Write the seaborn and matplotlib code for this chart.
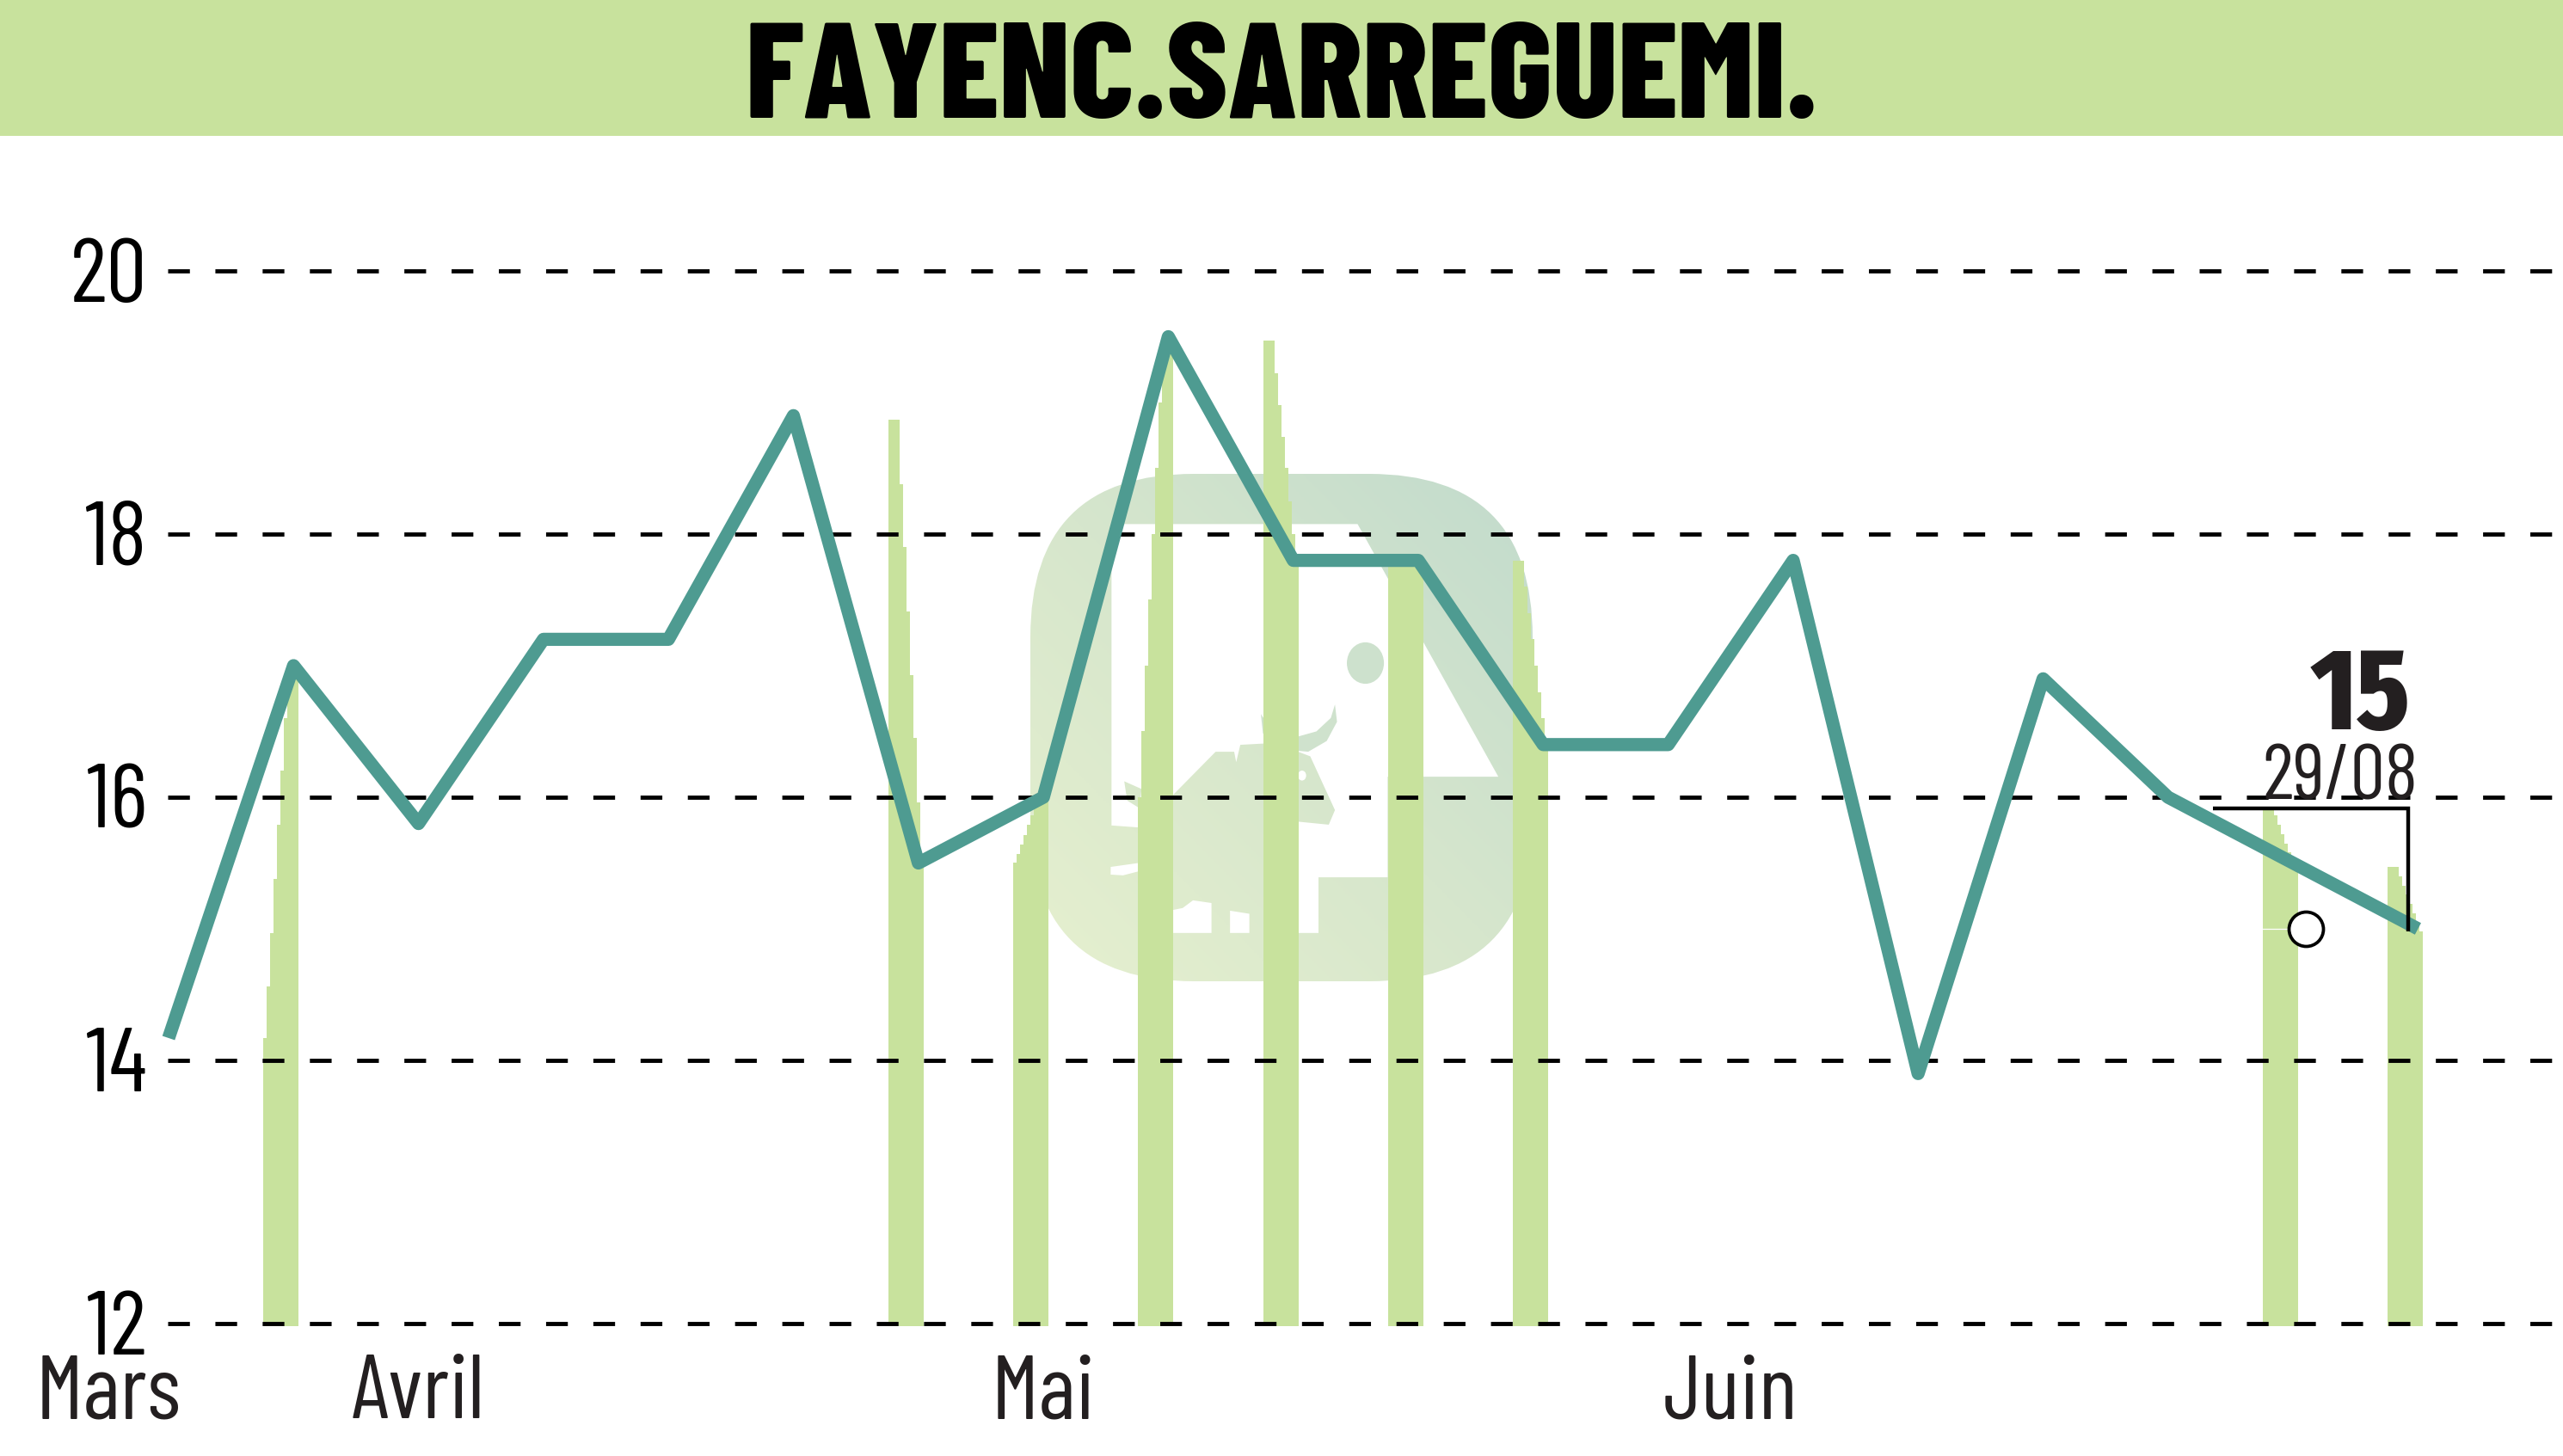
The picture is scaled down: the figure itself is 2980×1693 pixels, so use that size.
import numpy as np
import matplotlib
matplotlib.use('Agg')
import matplotlib.pyplot as plt
from matplotlib.patches import FancyBboxPatch, Polygon, Rectangle, Ellipse
from matplotlib.colors import LinearSegmentedColormap
from matplotlib.transforms import ScaledTranslation
import pandas as pd
import seaborn as sns

# ---- data ----
title = "FAYENC.SARREGUEMI."
price = [14.17, 17.0, 15.8, 17.2, 17.2, 18.9, 15.5, 16.0, 19.5, 17.8, 17.8, 16.4, 16.4, 17.8, 13.9, 16.9, 16.0, 15.5, 15.0]
sessions = list(range(len(price)))
y_ticks = [12, 14, 16, 18, 20]
month_labels = ["Mars", "Avril", "Mai", "Juin"]
month_pos = [-0.48, 2, 7, 12.5]
bar_sessions = [1, 6, 7, 8, 9, 10, 11, 17, 18]
bar_levels = [
    [14.17, 14.56, 14.97, 15.38, 15.79, 16.2, 16.6, 17.0],
    [18.87, 18.38, 17.9, 17.41, 16.93, 16.45, 15.96, 15.5],
    [15.5, 15.57, 15.64, 15.71, 15.79, 15.86, 15.93, 16.0],
    [16.0, 16.5, 17.0, 17.5, 18.0, 18.5, 19.0, 19.47],
    [19.47, 19.22, 18.98, 18.74, 18.5, 18.25, 18.0, 17.8],
    [17.8],
    [17.8, 17.6, 17.4, 17.2, 17.0, 16.8, 16.6, 16.4],
    [15.93, 15.86, 15.79, 15.72, 15.65, 15.58, 15.51, 15.45],
    [15.47, 15.40, 15.33, 15.26, 15.19, 15.12, 15.05, 14.98],
]
last_value = "15"
last_date = "29/08"

GREEN = "#c8e29d"
TEAL = "#4e9b91"
W, H = 2980, 1693
FONT = ["Barlow Condensed", "Fira Sans Extra Condensed", "DejaVu Sans"]

sns.set_theme(style="white")
plt.rcParams["font.family"] = FONT

fig = plt.figure(figsize=(W / 100, H / 100), dpi=100, facecolor="white")

# ---- background layer in picture pixels: header band and watermark ----
bg = fig.add_axes([0, 0, 1, 1], zorder=0)
bg.set_xlim(0, W)
bg.set_ylim(H, 0)
bg.axis("off")
bg.add_patch(Rectangle((0, 0), W, 158, fc=GREEN, ec="none"))

def z(pts):
    return [(1100 + x / 2.09, 500 + y / 2.24) for x, y in pts]

grad_x, grad_y = np.meshgrid(np.linspace(0, 1, 200), np.linspace(1, 0, 200))
cmap = LinearSegmentedColormap.from_list("wm", ["#e6f0cf", "#d6e6cc", "#c2dbcd"])
ext = (1198, 1782, 1141, 551)
grad = (grad_x + grad_y) / 2

rad = 190
box = FancyBboxPatch((1198 + rad, 551 + rad), 584 - 2 * rad, 590 - 2 * rad,
                     boxstyle=f"round,pad={rad},rounding_size={rad}", fc="none", ec="none")
bg.add_patch(box)
im = bg.imshow(grad, extent=ext, cmap=cmap, aspect="auto", zorder=1)
im.set_clip_path(box)

white_main = [(402, 245), (1000, 245), (1342, 903), (1073, 903), (1073, 1165), (905, 1165),
              (905, 1310), (855, 1310), (855, 1020), (930, 1028), (945, 990), (885, 850),
              (800, 815), (715, 820), (705, 865), (700, 838), (655, 838), (552, 950),
              (500, 1000), (466, 1035), (402, 1030)]
white_tail = [(400, 1138), (466, 1128), (466, 1150), (430, 1160), (400, 1158)]
white_hole1 = [(552, 1250), (575, 1245), (600, 1225), (645, 1232), (645, 1310), (552, 1310)]
white_hole2 = [(690, 1252), (737, 1260), (737, 1310), (690, 1310)]
for poly in (white_main, white_tail, white_hole1, white_hole2):
    bg.add_patch(Polygon(z(poly), closed=True, fc="white", ec="none", zorder=2))

horn = [(945, 715), (950, 760), (925, 810), (880, 838), (850, 835), (790, 815), (770, 790),
        (765, 740), (790, 780), (850, 800), (900, 785), (935, 750)]
ear = [(433, 915), (475, 935), (470, 985), (440, 965)]
for poly, col in ((horn, "#cfe2cd"), (ear, "#d9e8cc")):
    bg.add_patch(Polygon(z(poly), closed=True, fc=col, ec="none", zorder=3))
bg.add_patch(Ellipse((1100 + 1019 / 2.09, 500 + 607 / 2.24), 90 / 2.09, 108 / 2.24,
                     fc="#cde1cd", ec="none", zorder=3))
bg.add_patch(Ellipse((1100 + 865 / 2.09, 500 + 900 / 2.24), 20 / 2.09, 26 / 2.24,
                     fc="white", ec="none", zorder=3))

fig.text(1490 / W, 1 - 137 / H, title, ha="center", va="baseline", fontsize=114,
         fontweight=800, color="black", family=FONT)

# ---- chart layer ----
px_per_session = 145.3
x0_px = 196
y12_px, px_per_unit = 1539, 153
top_px = 200
ax = fig.add_axes([0, 1 - y12_px / H, 1, (y12_px - top_px) / H], zorder=1)
ax.patch.set_alpha(0)
ax.set_xlim(-x0_px / px_per_session, (W - x0_px) / px_per_session)
ax.set_ylim(12, 12 + (y12_px - top_px) / px_per_unit)

# staircase bars
left_off, wide, narrow = -35 / px_per_session, 13 / px_per_session, 4 / px_per_session
for s, levels in zip(bar_sessions, bar_levels):
    rising = levels[-1] > levels[0]
    if len(levels) == 1:
        widths = [41 / px_per_session]
    elif rising:
        widths = [narrow] * (len(levels) - 1) + [wide]
    else:
        widths = [wide] + [narrow] * (len(levels) - 1)
    edges = s + left_off + np.concatenate([[0], np.cumsum(widths)[:-1]])
    ax.bar(edges, np.array(levels) - 11.98, width=widths, bottom=11.98, align="edge",
           color=GREEN, linewidth=0, zorder=2, clip_on=False)

# dashed grid
for v in y_ticks:
    ax.plot([-0.01, ax.get_xlim()[1]], [v, v], color="black", lw=3.5, zorder=3, clip_on=False,
            dashes=(26 / 5, 30.5 / 5), dash_capstyle="butt")

# price line
df = pd.DataFrame({"session": sessions, "price": price})
sns.lineplot(data=df, x="session", y="price", ax=ax, color=TEAL, linewidth=11, zorder=4,
             errorbar=None, estimator=None, solid_capstyle="butt", solid_joinstyle="round")

# last-value callout
ax.plot([16.36, 17.92, 17.92], [15.915, 15.915, 14.98], color="black", lw=3.2, zorder=5,
        solid_joinstyle="miter", solid_capstyle="butt")
ax.plot([16.75, 17.0], [15.0, 15.0], color="white", lw=0.9, zorder=3)
ax.scatter([17.1], [15.0], s=(40 * 0.72) ** 2, fc="white", ec="black", lw=2.7, zorder=5)
ax.text(17.94, 15.0 + (1080 - 848) / px_per_unit, last_value, ha="right", va="baseline",
        fontsize=96, fontweight=800, color="#231f20", zorder=6, family="Fira Sans Extra Condensed")
ax.text(18.0, 15.0 + (1080 - 930) / px_per_unit, last_date, ha="right", va="baseline",
        fontsize=65, fontweight=400, color="#231f20", zorder=6)

# axes text
ax.set_yticks(y_ticks, [str(v) for v in y_ticks])
ax.set_xticks(month_pos, month_labels)
ax.tick_params(axis="y", length=0, pad=0, labelsize=76, labelcolor="black")
ax.tick_params(axis="x", length=0, pad=26, labelsize=76, labelcolor="#231f20")
for lab in ax.get_yticklabels():
    lab.set_ha("right")
    lab.set_transform(lab.get_transform() + ScaledTranslation(171 / 100, 1 / 100, fig.dpi_scale_trans))
ax.set_xlabel("")
ax.set_ylabel("")
for sp in ax.spines.values():
    sp.set_visible(False)
ax.grid(False)

fig.savefig("out.png", dpi=100, facecolor="white")
